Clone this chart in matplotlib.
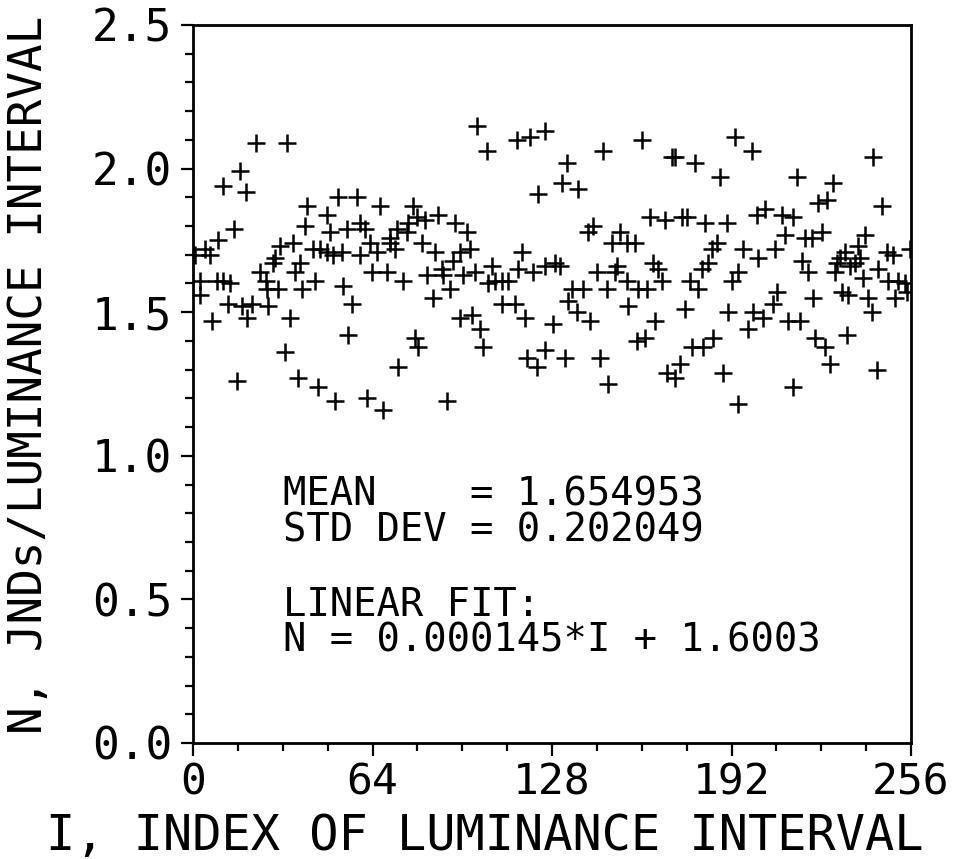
import matplotlib
matplotlib.use("Agg")
import matplotlib.pyplot as plt
from matplotlib.ticker import MultipleLocator, FixedLocator

# ---- data ----
I_vals = [
    22.5, 33.5, 16.8, 10.7, 18.9, 40.6, 39.9, 14.6, 8.9, 35.7, 4.3, 6.1, 0.7, 31.0, 29.2, 28.5, 38.1,
    23.9, 36.4, 26.0, 2.5, 8.6, 10.7, 13.2, 26.4, 30.3, 38.9, 2.5, 12.5, 17.5, 21.0, 26.7, 19.3, 6.8,
    34.6, 32.8, 37.4, 15.7,
    51.7, 58.5, 66.7, 78.4, 47.8, 59.5, 61.3, 54.9, 48.8, 72.7, 76.6, 79.9, 82.7, 76.3, 70.2, 63.1,
    81.6, 42.8, 45.3, 47.8, 49.9, 53.1, 59.5, 65.6, 70.2, 72.0, 63.8, 69.2, 74.9, 83.4, 43.5, 53.5,
    56.7, 55.3, 79.1, 80.2, 73.1, 44.6, 50.6, 62.0, 67.7,
    101.2, 104.8, 115.5, 120.1, 125.5, 123.0, 87.3, 93.4, 97.7, 86.3, 92.7, 95.2, 98.8, 117.3, 88.8,
    89.1, 96.3, 100.5, 106.6, 105.2, 107.7, 110.2, 112.3, 115.9, 121.2, 125.5, 91.6, 85.6, 110.2,
    114.8, 118.4, 95.2, 99.5, 102.3, 103.4, 119.1, 122.6, 125.5, 90.6,
    146.2, 160.1, 133.3, 131.6, 137.3, 162.9, 168.3, 142.6, 140.8, 152.2, 149.4, 154.7, 157.6, 129.1,
    130.8, 144.0, 151.2, 150.4, 154.7, 164.0, 165.8, 167.2, 135.1, 139.0, 147.6, 158.6, 161.9, 133.7,
    136.9, 141.5, 155.1, 128.3, 164.7, 132.6, 145.1, 158.3, 161.1, 169.0, 147.9,
    193.2, 199.3, 170.8, 171.8, 179.0, 187.9, 174.3, 176.1, 182.5, 190.4, 201.1, 203.9, 186.8, 185.0,
    196.1, 201.4, 207.5, 183.6, 181.5, 194.3, 177.2, 180.0, 192.2, 208.2, 206.8, 175.4, 190.7, 199.6,
    203.2, 197.9, 185.4, 181.8, 177.9, 173.6, 171.8, 188.9, 194.3,
    242.4, 215.3, 228.2, 222.8, 226.0, 245.6, 210.0, 213.9, 211.0, 218.2, 220.7, 224.2, 239.6, 237.1,
    232.4, 217.1, 230.7, 237.8, 236.0, 229.6, 228.9, 234.2, 238.9, 219.3, 247.4, 249.6, 255.6, 244.2,
    247.8, 251.3, 253.8, 231.4, 233.5, 240.6, 250.3, 254.5, 221.0, 242.1, 212.1, 216.4, 233.2, 221.7,
    225.3, 227.1, 243.9, 213.9,
]
N_vals = [
    2.09, 2.09, 1.99, 1.94, 1.92, 1.87, 1.80, 1.79, 1.75, 1.74, 1.72, 1.70, 1.70, 1.73, 1.69, 1.67, 1.67,
    1.64, 1.64, 1.61, 1.61, 1.61, 1.61, 1.60, 1.58, 1.58, 1.58, 1.56, 1.53, 1.52, 1.53, 1.52, 1.48, 1.47,
    1.48, 1.36, 1.27, 1.26,
    1.90, 1.90, 1.87, 1.87, 1.84, 1.81, 1.79, 1.79, 1.78, 1.79, 1.81, 1.83, 1.82, 1.78, 1.76, 1.74,
    1.74, 1.72, 1.72, 1.71, 1.70, 1.71, 1.70, 1.71, 1.74, 1.72, 1.64, 1.64, 1.61, 1.63, 1.61, 1.59,
    1.53, 1.42, 1.41, 1.38, 1.31, 1.24, 1.19, 1.20, 1.16,
    2.15, 2.06, 2.10, 2.11, 2.13, 1.91, 1.84, 1.81, 1.78, 1.71, 1.68, 1.71, 1.72, 1.71, 1.65,
    1.63, 1.63, 1.64, 1.66, 1.60, 1.61, 1.61, 1.61, 1.65, 1.64, 1.66, 1.58, 1.55, 1.53,
    1.53, 1.48, 1.48, 1.49, 1.44, 1.38, 1.34, 1.31, 1.37, 1.19,
    2.06, 2.10, 2.02, 1.95, 1.93, 1.83, 1.82, 1.80, 1.78, 1.78, 1.74, 1.74, 1.74, 1.67,
    1.66, 1.64, 1.66, 1.64, 1.61, 1.67, 1.65, 1.61, 1.58, 1.58, 1.58, 1.58, 1.58, 1.54,
    1.50, 1.47, 1.52, 1.46, 1.47, 1.34, 1.34, 1.40, 1.41, 1.29, 1.25,
    2.11, 2.06, 2.04, 2.04, 2.02, 1.97, 1.83, 1.83, 1.81, 1.81, 1.84, 1.86, 1.74, 1.72,
    1.72, 1.69, 1.72, 1.67, 1.65, 1.64, 1.61, 1.58, 1.61, 1.57, 1.53, 1.51, 1.50, 1.50,
    1.48, 1.44, 1.41, 1.38, 1.38, 1.32, 1.27, 1.29, 1.18,
    2.04, 1.97, 1.95, 1.88, 1.89, 1.87, 1.84, 1.83, 1.77, 1.76, 1.76, 1.78, 1.77, 1.73,
    1.71, 1.68, 1.69, 1.69, 1.67, 1.67, 1.64, 1.66, 1.62, 1.64, 1.71, 1.70, 1.72, 1.65,
    1.61, 1.61, 1.60, 1.57, 1.56, 1.55, 1.55, 1.57, 1.55, 1.50, 1.47, 1.47, 1.42, 1.41,
    1.38, 1.32, 1.30, 1.24,
]
x_ticks = [0, 64, 128, 192, 256]
x_tick_labels = ["0", "64", "128", "192", "256"]
y_ticks = [0.0, 0.5, 1.0, 1.5, 2.0, 2.5]
y_tick_labels = ["0.0", "0.5", "1.0", "1.5", "2.0", "2.5"]
x_label = "I, INDEX OF LUMINANCE INTERVAL"
y_label = "N, JNDs/LUMINANCE INTERVAL"
stats_lines = ["MEAN    = 1.654953", "STD DEV = 0.202049"]
fit_lines = ["LINEAR FIT:", "N = 0.000145*I + 1.6003"]

FONT = "DejaVu Sans Mono"
W, H = 964, 859

fig = plt.figure(figsize=(W / 100, H / 100), dpi=100)
ax = fig.add_axes([193 / W, (H - 743) / H, 718 / W, 718 / H])

ax.plot(I_vals, N_vals, linestyle="none", marker="+", markersize=13,
        markeredgewidth=1.8, color="black")

ax.set_xlim(0, 256)
ax.set_ylim(0, 2.5)
ax.xaxis.set_major_locator(FixedLocator(x_ticks))
ax.xaxis.set_minor_locator(MultipleLocator(16))
ax.yaxis.set_major_locator(FixedLocator(y_ticks))
ax.yaxis.set_minor_locator(MultipleLocator(0.1))
ax.set_xticklabels(x_tick_labels, family=FONT, fontsize=31)
ax.set_yticklabels(y_tick_labels, family=FONT, fontsize=32)

ax.tick_params(which="major", direction="out", length=9, width=1.6, color="black")
ax.tick_params(which="minor", direction="out", length=6, width=1.6, color="black")
ax.tick_params(axis="x", which="major", pad=4)
ax.tick_params(axis="y", which="major", pad=6)
ax.tick_params(top=False, right=False, which="both")
for sp in ax.spines.values():
    sp.set_linewidth(2)
    sp.set_color("black")

fig.text(485 / W, (H - 850) / H, x_label, family=FONT, fontsize=35,
         ha="center", va="baseline")
fig.text(30 / W, (H - 375) / H, y_label, family=FONT, fontsize=33,
         ha="center", va="center", rotation=90)

ys = [(743 - 494) / 718, (743 - 531) / 718]
for t, yy in zip(stats_lines, ys):
    ax.text(0.125, yy, t, transform=ax.transAxes, family=FONT, fontsize=28,
            ha="left", va="center")
ys = [(743 - 605) / 718, (743 - 640) / 718]
for t, yy in zip(fit_lines, ys):
    ax.text(0.125, yy, t, transform=ax.transAxes, family=FONT, fontsize=28,
            ha="left", va="center")

fig.savefig("out.png", dpi=100, facecolor="white")
